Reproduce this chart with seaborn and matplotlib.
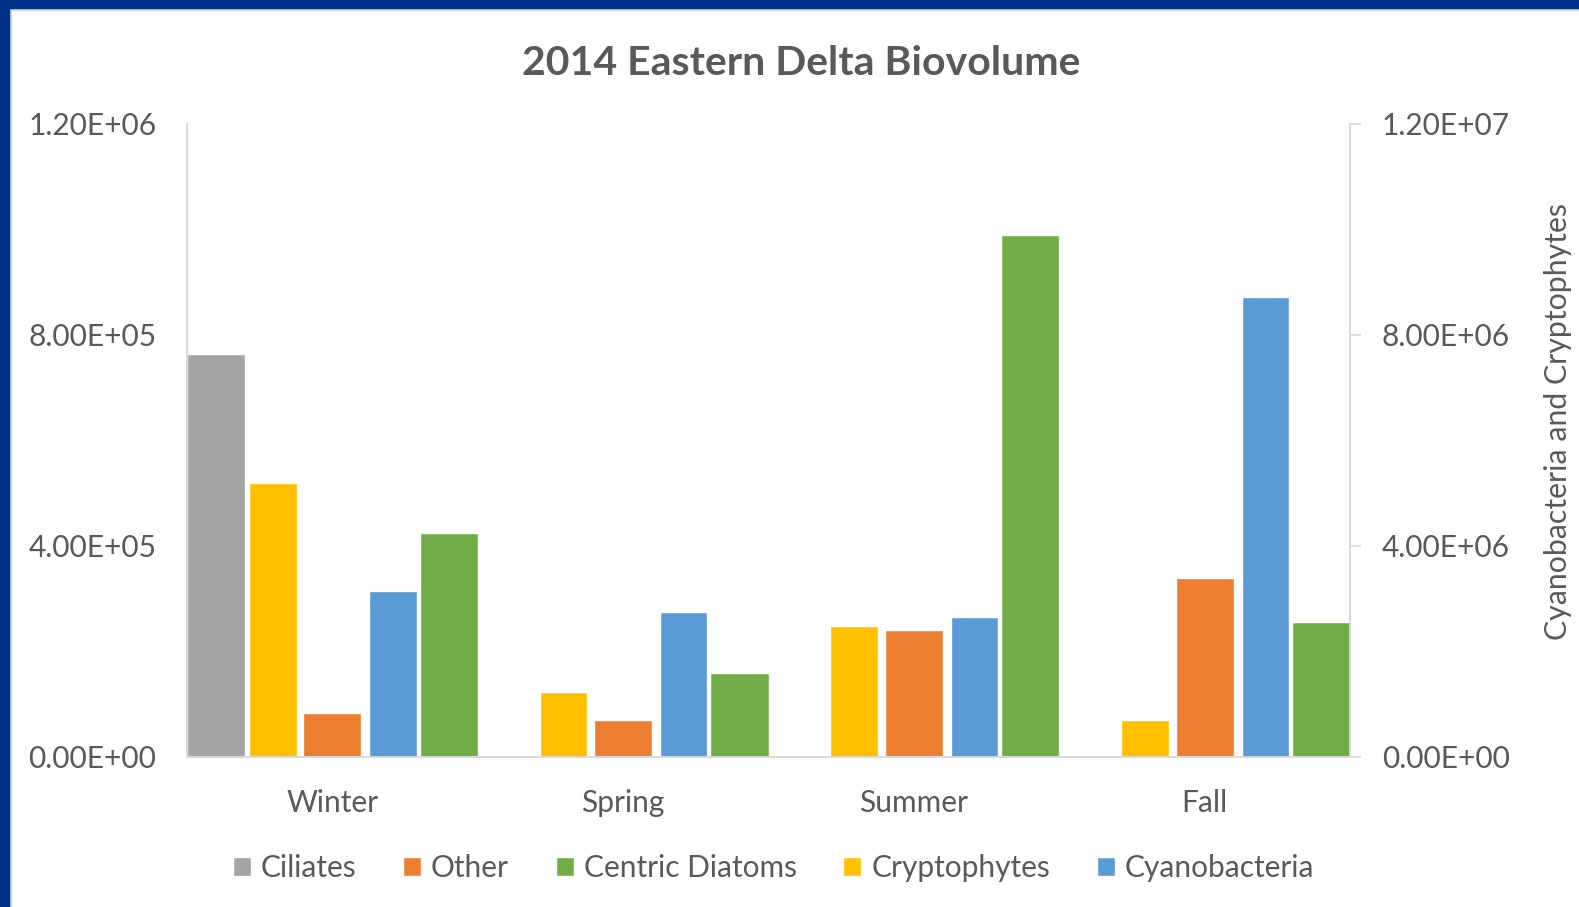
import matplotlib
matplotlib.use("Agg")
import matplotlib.pyplot as plt
from matplotlib.patches import Patch, Rectangle
from matplotlib.ticker import FuncFormatter, FixedLocator
import numpy as np
import seaborn as sns

# ---- data -------------------------------------------------------------
seasons = ["Winter", "Spring", "Summer", "Fall"]

# primary axis series (biovolume)
ciliates = [7.63e5, 0.0, 0.0, 0.0]
other = [8.2e4, 6.95e4, 2.41e5, 3.38e5]
centric_diatoms = [4.245e5, 1.59e5, 9.887e5, 2.558e5]

# secondary axis series
cryptophytes = [5.18e6, 1.232e6, 2.483e6, 6.95e5]
cyanobacteria = [3.146e6, 2.737e6, 2.642e6, 8.706e6]

left_ticks = [0, 4.0e5, 8.0e5, 1.2e6]
right_ticks = [0, 4.0e6, 8.0e6, 1.2e7]

title = "2014 Eastern Delta Biovolume"
right_label = "Cyanobacteria and Cryptophytes"

# ---- style ------------------------------------------------------------
sns.set_style("white")
plt.rcParams["font.family"] = ["Lato", "DejaVu Sans"]
TEXT = "#595959"
AXIS = "#D9D9D9"
colors = {
    "Ciliates": "#A5A5A5",
    "Other": "#ED7D31",
    "Centric Diatoms": "#70AD47",
    "Cryptophytes": "#FFC000",
    "Cyanobacteria": "#5B9BD5",
}

W, H = 1579, 907
fig = plt.figure(figsize=(W / 100, H / 100), dpi=100)
fig.patch.set_facecolor("white")

# slide frame
frame = "#003087"
fig.add_artist(Rectangle((0, 0), 9 / W, 1, transform=fig.transFigure, color=frame, zorder=10))
fig.add_artist(Rectangle((0, 1 - 8 / H), 1, 8 / H, transform=fig.transFigure, color=frame, zorder=10))
fig.add_artist(Rectangle((9 / W, 0), 2 / W, 1 - 8 / H, transform=fig.transFigure, color="#D6D6D6", zorder=9))
fig.add_artist(Rectangle((9 / W, 1 - 10 / H), 1, 2 / H, transform=fig.transFigure, color="#D6D6D6", zorder=9))

x0, x1 = 187, 1350
y_top, y_bot = 123.5, 756.7
ax = fig.add_axes([x0 / W, 1 - y_bot / H, (x1 - x0) / W, (y_bot - y_top) / H])
ax2 = ax.twinx()

pos = np.arange(len(seasons), dtype=float)

def bars(axis, values, offset, width, name):
    sns.barplot(x=pos + offset, y=values, native_scale=True, orient="x",
                width=width, color=colors[name], saturation=1,
                edgecolor="white", linewidth=1, errorbar=None, ax=axis)

bars(ax, ciliates, -0.4, 0.2, "Ciliates")
bars(ax, other, 0.0, 0.2, "Other")
bars(ax, centric_diatoms, 0.4, 0.2, "Centric Diatoms")
bars(ax2, cryptophytes, -0.205, 0.164, "Cryptophytes")
bars(ax2, cyanobacteria, 0.2085, 0.163, "Cyanobacteria")

for a in (ax, ax2):
    a.set_xlim(-0.5, len(seasons) - 0.5)
    a.set_xlabel("")
    a.set_ylabel("")
    a.set_facecolor("none")
    for s in a.spines.values():
        s.set_color(AXIS)
        s.set_linewidth(1.2)
    a.spines["top"].set_visible(False)

ax.set_ylim(0, left_ticks[-1])
ax2.set_ylim(0, right_ticks[-1])
ax.set_yticks(left_ticks)
ax2.set_yticks(right_ticks)
fmt = FuncFormatter(lambda v, p: f"{v:.2E}")
ax.yaxis.set_major_formatter(fmt)
ax2.yaxis.set_major_formatter(fmt)

ax.tick_params(axis="y", length=0, pad=22, labelsize=21.5, labelcolor=TEXT)
ax2.tick_params(axis="y", length=8, width=1.2, color=AXIS, direction="out",
                pad=15, labelsize=21.5, labelcolor=TEXT)

# category boundaries as ticks, names centred between them
ax.xaxis.set_major_locator(FixedLocator(np.arange(len(seasons) + 1) - 0.5))
ax.xaxis.set_minor_locator(FixedLocator(pos))
ax.set_xticklabels([""] * (len(seasons) + 1))
ax.set_xticklabels(seasons, minor=True)
ax.tick_params(axis="x", which="major", length=8, width=1.2, color=AXIS, direction="out")
ax.tick_params(axis="x", which="minor", length=0, pad=23, labelsize=21.5, labelcolor=TEXT)
ax2.tick_params(axis="x", which="both", length=0, labelbottom=False)

fig.text(801.5 / W, 1 - 63.5 / H, title, ha="center", va="center",
         fontsize=29.5, fontweight="bold", color=TEXT)
fig.text(1558 / W, 1 - 422 / H, right_label, ha="center", va="center",
         rotation=90, fontsize=21.8, color=TEXT)

order = ["Ciliates", "Other", "Centric Diatoms", "Cryptophytes", "Cyanobacteria"]
handles = [Patch(facecolor=colors[n], edgecolor="white", label=n) for n in order]
leg = fig.legend(handles=handles, loc="center", bbox_to_anchor=(773.5 / W, 1 - 868 / H),
                 ncol=5, frameon=False, fontsize=21.5, handlelength=0.6,
                 handleheight=0.6, handletextpad=0.34, columnspacing=1.56)
for t in leg.get_texts():
    t.set_color(TEXT)

fig.savefig("out.png", dpi=100, facecolor="white")
